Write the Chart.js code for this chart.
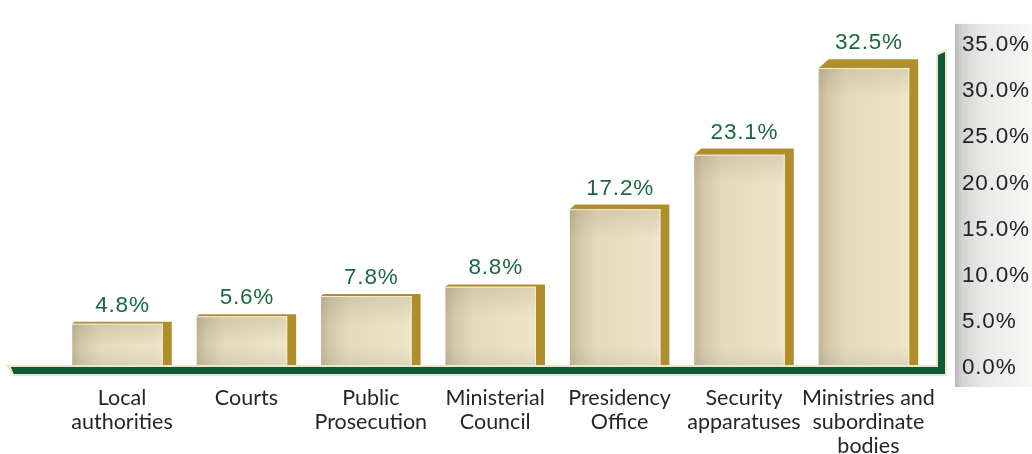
<!DOCTYPE html>
<html>
<head>
<meta charset="utf-8">
<script src="https://cdn.jsdelivr.net/npm/chart.js@4/dist/chart.umd.min.js"></script>
<style>
  html, body { margin: 0; padding: 0; background: #ffffff; }
  #wrap { width: 1032px; height: 454px; }
</style>
</head>
<body>
<div id="wrap"><canvas id="c" width="1032" height="454"></canvas></div>
<script>
// Categories (multi-line labels) and their shares in percent
const categories = [
  ["Local", "authorities"],
  ["Courts"],
  ["Public", "Prosecution"],
  ["Ministerial", "Council"],
  ["Presidency", "Office"],
  ["Security", "apparatuses"],
  ["Ministries and", "subordinate", "bodies"]
];
const shares = [4.8, 5.6, 7.8, 8.8, 17.2, 23.1, 32.5];

// Value axis range
const axisMin = 0;
const axisMax = 35;
const axisStep = 5;

// Palette
const GOLD = '#b18e2c';
const GREEN = '#0e5b38';
const CREAM = '#efe5c9';
const LABEL_GREEN = '#1b6742';
const SIDE = 9; // width of the gold side face

const numFont = "'Liberation Sans', Arial, Helvetica, sans-serif";
const numSize = 22.5;
const numSpacing = '0.8px';

// Grey panel behind the value axis
const axisPanel = {
  id: 'axisPanel',
  beforeDraw(chart) {
    const { ctx, chartArea: a } = chart;
    const y = chart.scales.y;
    const x0 = y.left + 24.4, x1 = chart.width;
    const y0 = a.top - 21, y1 = a.bottom + 19;
    const g = ctx.createLinearGradient(x0, 0, x1, 0);
    g.addColorStop(0, '#b9bab8');
    g.addColorStop(0.1, '#d4d5d3');
    g.addColorStop(0.35, '#e8e9e7');
    g.addColorStop(1, '#f7f7f6');
    ctx.save();
    ctx.fillStyle = g;
    ctx.fillRect(x0, y0, x1 - x0, y1 - y0);
    ctx.restore();
  },
  afterLayout(chart) {
    // letter-spaced value-axis labels
    const y = chart.scales.y;
    if (y && !y._spaced) {
      const orig = y.drawLabels.bind(y);
      y.drawLabels = function (area) {
        const c = this.ctx;
        c.save();
        c.letterSpacing = numSpacing;
        orig(area);
        c.restore();
      };
      y._spaced = true;
    }
  }
};

// Raised bars: cream front face, gold top and side, green axis frame, value labels
const raisedBars = {
  id: 'raisedBars',
  afterDatasetsDraw(chart) {
    const { ctx, chartArea: a } = chart;
    const meta = chart.getDatasetMeta(0);
    ctx.save();
    meta.data.forEach((bar) => {
      const { x, y, base, width } = bar.getProps(['x', 'y', 'base', 'width'], true);
      const left = x - width / 2;
      const right = x + width / 2 - SIDE;
      const h = base - y;
      const depth = Math.max(2, h * 0.029);
      const slant = depth * 1.15;

      // front face
      const g = ctx.createLinearGradient(left, 0, right, 0);
      g.addColorStop(0, '#c2b697');
      g.addColorStop(0.1, '#d3c8aa');
      g.addColorStop(0.3, '#e4dabe');
      g.addColorStop(0.85, '#ece2c6');
      g.addColorStop(1, '#efe6cb');
      ctx.fillStyle = g;
      ctx.fillRect(left, y, right - left, h);

      // soft shading near the top and bottom of the face
      const vtH = Math.min(30, h * 0.5);
      const vt = ctx.createLinearGradient(0, y, 0, y + vtH);
      vt.addColorStop(0, 'rgba(130,115,80,0.18)');
      vt.addColorStop(1, 'rgba(130,115,80,0)');
      ctx.fillStyle = vt;
      ctx.fillRect(left, y, right - left, vtH);
      const vbH = Math.min(22, h * 0.45);
      const vb = ctx.createLinearGradient(0, base - vbH, 0, base);
      vb.addColorStop(0, 'rgba(150,135,100,0)');
      vb.addColorStop(1, 'rgba(150,135,100,0.18)');
      ctx.fillStyle = vb;
      ctx.fillRect(left, base - vbH, right - left, vbH);

      // gold top and side
      ctx.fillStyle = GOLD;
      ctx.beginPath();
      ctx.moveTo(left, y);
      ctx.lineTo(left + slant, y - depth);
      ctx.lineTo(right + SIDE, y - depth);
      ctx.lineTo(right + SIDE, base);
      ctx.lineTo(right, base);
      ctx.lineTo(right, y);
      ctx.closePath();
      ctx.fill();

      // light edge along the top of the face
      ctx.fillStyle = '#f4ecd4';
      ctx.fillRect(left, y, right - left, 1);
      ctx.fillRect(right - 1, y, 1, h);
    });

    // green axis frame with cream edging
    const L = a.left, R = a.right, T = a.top, B = a.bottom;
    const gx1 = R + 7.4, gx2 = R + 14.4;
    const gy1 = B - 1, gy2 = B + 6;
    ctx.fillStyle = CREAM;
    ctx.beginPath();
    ctx.moveTo(L - 54, gy1 - 2);
    ctx.lineTo(gx1 - 2, gy1 - 2);
    ctx.lineTo(gx1 - 2, T + 8);
    ctx.lineTo(gx2 + 2, T + 4);
    ctx.lineTo(gx2 + 2, gy2 + 2);
    ctx.lineTo(L - 47, gy2 + 2);
    ctx.closePath();
    ctx.fill();
    ctx.fillStyle = GREEN;
    ctx.beginPath();
    ctx.moveTo(L - 49, gy1);
    ctx.lineTo(gx1, gy1);
    ctx.lineTo(gx1, T + 10);
    ctx.lineTo(gx2, T + 7);
    ctx.lineTo(gx2, gy2);
    ctx.lineTo(L - 46, gy2);
    ctx.closePath();
    ctx.fill();

    // value labels
    ctx.fillStyle = LABEL_GREEN;
    ctx.font = numSize + 'px ' + numFont;
    ctx.letterSpacing = numSpacing;
    ctx.textAlign = 'center';
    ctx.textBaseline = 'alphabetic';
    meta.data.forEach((bar, i) => {
      const { x, y, base } = bar.getProps(['x', 'y', 'base'], true);
      const depth = Math.max(2, (base - y) * 0.029);
      ctx.fillText(shares[i].toFixed(1) + '%', x + 0.5, y - depth - 10);
    });
    ctx.restore();
  }
};

new Chart(document.getElementById('c'), {
  type: 'bar',
  data: {
    labels: categories,
    datasets: [{
      data: shares,
      backgroundColor: 'rgba(0,0,0,0)',
      borderWidth: 0,
      barPercentage: 0.8,
      categoryPercentage: 1.0
    }]
  },
  options: {
    responsive: false,
    devicePixelRatio: 1,
    animation: false,
    events: [],
    layout: { padding: { left: 59.8, top: 38.8, right: 0, bottom: 0 } },
    plugins: {
      legend: { display: false },
      tooltip: { enabled: false },
      title: { display: false }
    },
    scales: {
      x: {
        grid: { display: false, drawTicks: false },
        border: { display: false },
        ticks: {
          autoSkip: false,
          maxRotation: 0,
          minRotation: 0,
          padding: 18,
          color: '#262626',
          font: { family: "Lato, 'Open Sans', sans-serif", size: 21.5, lineHeight: 1.12 }
        },
        afterFit(scale) { scale.height = 86; }
      },
      y: {
        position: 'right',
        min: axisMin,
        max: axisMax,
        grid: { display: false, drawTicks: false },
        border: { display: false },
        ticks: {
          stepSize: axisStep,
          padding: 31.4,
          color: '#222222',
          font: { family: numFont, size: numSize },
          callback: (v) => Number(v).toFixed(1) + '%'
        },
        afterFit(scale) { scale.width = 101.4; }
      }
    }
  },
  plugins: [axisPanel, raisedBars]
});
</script>
</body>
</html>
